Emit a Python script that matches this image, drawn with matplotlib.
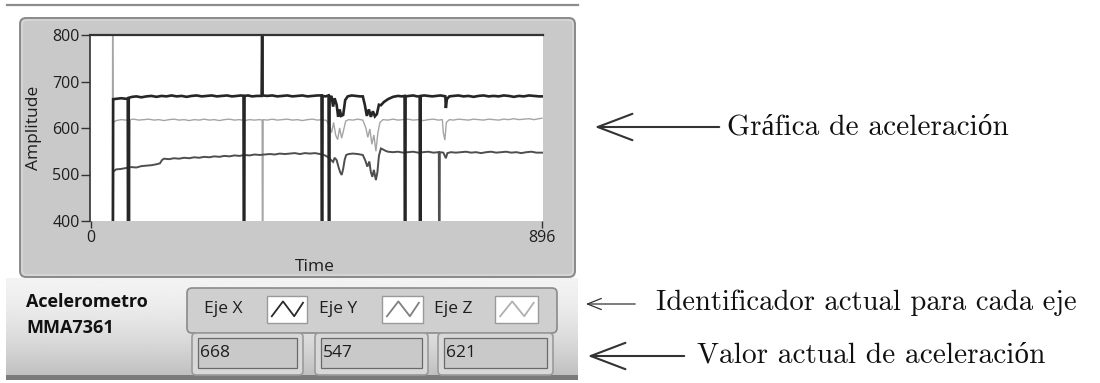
import numpy as np
import matplotlib.pyplot as plt
from matplotlib.patches import FancyBboxPatch, Rectangle, FancyArrowPatch

plt.rcParams["font.family"] = "Open Sans"

W, H = 1100, 383

# traces: (sample, amplitude)
eje_x = [(0, 0), (43, 0), (44, 662), (52, 663), (60, 664), (68, 663), (73, 663), (74, 0),
         (75, 665), (82, 667), (90, 668), (100, 666), (110, 668), (120, 669), (130, 667),
         (140, 669), (150, 668), (160, 670), (170, 668), (180, 669), (190, 667), (200, 669),
         (210, 670), (220, 668), (230, 669), (240, 670), (250, 668), (260, 669), (270, 670),
         (280, 668), (290, 669), (298, 670), (303, 669), (304, 0), (305, 669), (312, 670),
         (320, 668), (330, 669), (339, 669), (340, 830), (341, 670), (350, 669), (360, 670),
         (370, 668), (380, 669), (390, 670), (400, 668), (410, 669), (420, 670), (430, 668),
         (440, 669), (450, 670), (458, 670), (459, 0), (460, 669), (466, 668), (472, 670),
         (473, 0), (474, 668), (478, 667), (481, 646), (484, 664), (488, 650), (491, 624),
         (494, 640), (497, 626), (501, 628), (505, 660), (510, 668), (518, 670), (526, 669),
         (534, 668), (540, 668), (544, 650), (548, 626), (552, 640), (556, 624), (560, 636),
         (564, 625), (568, 630), (572, 650), (576, 649), (582, 656), (590, 662), (600, 667),
         (610, 669), (618, 668), (623, 669), (624, 0), (625, 668), (632, 669), (640, 670),
         (648, 668), (653, 668), (654, 0), (655, 669), (662, 670), (670, 669), (678, 668),
         (686, 669), (694, 670), (700, 669), (704, 668), (705, 643), (707, 662), (712, 668),
         (720, 669), (730, 670), (740, 668), (750, 669), (760, 667), (770, 669), (780, 670),
         (790, 668), (800, 669), (810, 668), (820, 670), (830, 669), (840, 667), (850, 669),
         (860, 668), (870, 670), (880, 669), (890, 668), (896, 668)]

eje_y = [(0, 0), (43, 0), (44, 506), (50, 511), (60, 512), (70, 514), (80, 516), (90, 515),
         (100, 518), (110, 519), (120, 520), (130, 522), (137, 524), (141, 531), (145, 534),
         (155, 533), (165, 535), (175, 534), (185, 536), (195, 535), (205, 537), (215, 536),
         (225, 538), (235, 537), (245, 539), (255, 538), (265, 540), (275, 539), (285, 541),
         (295, 540), (305, 542), (315, 541), (325, 543), (335, 542), (345, 543), (355, 544),
         (365, 543), (375, 545), (385, 544), (395, 545), (405, 546), (415, 544), (425, 546),
         (435, 545), (445, 546), (455, 544), (465, 541), (470, 538), (475, 533), (478, 530),
         (481, 527), (484, 536), (488, 531), (492, 515), (495, 505), (498, 499), (501, 512),
         (504, 532), (507, 542), (512, 544), (520, 545), (530, 544), (540, 542), (545, 530),
         (549, 517), (553, 528), (556, 505), (559, 495), (562, 510), (566, 488), (569, 505),
         (572, 540), (576, 556), (580, 554), (585, 551), (590, 549), (600, 548), (610, 549),
         (620, 547), (630, 548), (640, 549), (650, 547), (660, 548), (670, 549), (680, 547),
         (691, 548), (692, 0), (693, 548), (700, 547), (705, 535), (708, 546), (715, 548),
         (725, 547), (735, 548), (745, 549), (755, 547), (765, 548), (775, 546), (785, 548),
         (795, 549), (805, 547), (815, 548), (825, 549), (835, 547), (845, 548), (855, 546),
         (865, 548), (875, 549), (885, 547), (896, 547)]

eje_z = [(0, 0), (42, 0), (43, 850), (44, 612), (50, 616), (60, 618), (70, 617), (76, 617),
         (77, 0), (78, 618), (85, 619), (95, 617), (105, 618), (115, 619), (125, 617),
         (135, 618), (145, 616), (155, 618), (165, 619), (175, 617), (185, 618), (195, 616),
         (205, 618), (215, 617), (225, 619), (235, 617), (245, 618), (255, 616), (265, 618),
         (275, 619), (285, 617), (295, 618), (305, 616), (315, 618), (325, 617), (335, 618),
         (340, 617), (341, 0), (342, 618), (350, 617), (360, 619), (370, 617), (380, 618),
         (390, 619), (400, 617), (410, 618), (420, 616), (430, 618), (440, 619), (450, 617),
         (460, 618), (468, 616), (474, 605), (478, 590), (482, 612), (486, 585), (490, 575),
         (494, 600), (498, 578), (502, 596), (506, 615), (512, 618), (520, 617), (530, 619),
         (540, 617), (546, 600), (550, 580), (554, 598), (558, 565), (562, 585), (566, 550),
         (570, 590), (574, 612), (580, 618), (590, 617), (600, 619), (610, 617), (620, 618),
         (630, 619), (640, 617), (650, 618), (660, 616), (670, 618), (680, 619), (690, 617),
         (698, 618), (700, 590), (703, 574), (706, 612), (712, 618), (720, 617), (730, 619),
         (740, 618), (750, 617), (760, 619), (770, 618), (780, 617), (790, 619), (800, 618),
         (810, 617), (820, 619), (830, 618), (840, 620), (850, 618), (860, 619), (870, 620),
         (880, 618), (890, 620), (896, 621)]

series_names = ["Eje X", "Eje Y", "Eje Z"]
current_values = ["668", "547", "621"]
y_ticks = [400, 500, 600, 700, 800]
x_ticks = [0, 896]
notes = ["Gráfica de aceleración",
         "Identificador actual para cada eje",
         "Valor actual de aceleración"]

colors = ["#262626", "#4e4e4e", "#a5a5a5"]
swatch_colors = ["#2a2a2a", "#808080", "#b0b0b0"]
widths = [1.9, 1.4, 1.0]
serif = ["cmr10", "Liberation Serif"]

fig = plt.figure(figsize=(W / 100, H / 100), dpi=100)
fig.patch.set_facecolor("white")

# background canvas in pixel units (y grows downwards)
bg = fig.add_axes([0, 0, 1, 1])
bg.axis("off")


def box(x0, y0, x1, y1, r=4, **kw):
    bg.add_patch(FancyBboxPatch((x0, y0), x1 - x0, y1 - y0,
                                boxstyle=f"round,pad=0,rounding_size={r}", **kw))


# light-to-grey shading of the front panel below the graph
shade = (0.95 - 0.2 * np.linspace(0, 1, 120) ** 1.6)[:, None]
bg.imshow(shade, extent=(6, 578, 376, 278), cmap="gray", vmin=0, vmax=1,
          aspect="auto", zorder=0)
bg.add_patch(Rectangle((6, 375), 572, 5, fc="#7b7b7b", ec="none"))
bg.plot([7, 578], [5, 5], color="#8c8c8c", lw=1.6)
bg.set_xlim(0, W)
bg.set_ylim(H, 0)

# graph frame
box(20, 18, 575, 277, r=6, fc="#c9c9c9", ec="#8a8a8a", lw=1.4)
box(22, 20, 573, 275, r=5, fc="none", ec="#dedede", lw=0.8)
bg.text(34, 128, "Amplitude", rotation=90, ha="center", va="center",
        fontsize=12.5, color="#1e1e1e")
bg.text(315, 267, "Time", ha="center", va="center", fontsize=12.5, color="#1e1e1e")

# plot area
ax = fig.add_axes([90 / W, 1 - 221 / H, 453 / W, 186 / H])
ax.set_facecolor("white")
for data, c, lw in zip([eje_z, eje_y, eje_x], colors[::-1], widths[::-1]):
    t, v = zip(*data)
    ax.plot(t, v, color=c, lw=lw, solid_joinstyle="miter")
ax.set_xlim(-2, 898)
ax.set_ylim(400, 800)
ax.set_yticks(y_ticks)
ax.set_xticks(x_ticks)
ax.tick_params(axis="y", direction="out", length=6.5, width=1, color="#333333",
               labelsize=11.5, labelcolor="#1e1e1e", pad=1)
ax.tick_params(axis="x", direction="out", length=5, width=1, color="#333333",
               labelsize=11.5, labelcolor="#1e1e1e", pad=1.5)
ax.spines["top"].set(color="#333333", lw=1.6)
ax.spines["left"].set(color="#333333", lw=1.2)
ax.spines["right"].set_visible(False)
ax.spines["bottom"].set_visible(False)

# device name
bg.text(26, 302, "Acelerometro", fontsize=13, fontweight="bold", va="center", color="#111111")
bg.text(26, 328, "MMA7361", fontsize=13, fontweight="bold", va="center", color="#111111")

# legend strip
box(187, 288, 557, 333, r=5, fc="#cfcfcf", ec="#8a8a8a", lw=1.2)
label_x = [204, 319, 434]
swatch_x = [(267, 307), (382, 423), (495, 538)]
zig = np.array([[0.12, 0.25], [0.4, 0.8], [0.68, 0.25], [0.9, 0.75]])
for name, lx, (s0, s1), c in zip(series_names, label_x, swatch_x, swatch_colors):
    bg.text(lx, 309, name, fontsize=12.5, va="center", color="#1e1e1e")
    bg.add_patch(Rectangle((s0, 296), s1 - s0, 27, fc="white", ec="#9a9a9a", lw=1))
    bg.plot(s0 + zig[:, 0] * (s1 - s0), 323 - zig[:, 1] * 27, color=c, lw=1.3)

# current value indicators
value_x = [(192, 303), (315, 428), (438, 553)]
for val, (v0, v1) in zip(current_values, value_x):
    box(v0, 333, v1, 375, r=4, fc="#d8d8d8", ec="#9a9a9a", lw=1.2)
    bg.add_patch(Rectangle((v0 + 6, 338), v1 - v0 - 12, 30, fc="#c9c9c9", ec="#6a6a6a", lw=0.9))
    bg.text(v0 + 8, 353, val, fontsize=12.5, va="center", color="#1e1e1e")

# annotations
arrows = [((722, 127), (592, 127), 25, 1.0, 0.38, 1.5),
          ((638, 304), (583, 304), 10, 1.0, 0.4, 0.9),
          ((687, 356), (585, 356), 25, 1.0, 0.38, 1.5)]
for (tail, tip, ms, hl, hw, lw) in arrows:
    bg.add_patch(FancyArrowPatch(tail, tip, mutation_scale=ms, lw=lw, color="#333333",
                                 arrowstyle=f"->,head_length={hl},head_width={hw}"))
bg.text(727, 127, notes[0], family=serif, fontsize=21.2, va="center", color="#111111")
bg.text(656, 303, notes[1], family=serif, fontsize=20.6, va="center", color="#111111")
bg.text(697, 355, notes[2], family=serif, fontsize=21.2, va="center", color="#111111")

fig.savefig("out.png", dpi=100)
